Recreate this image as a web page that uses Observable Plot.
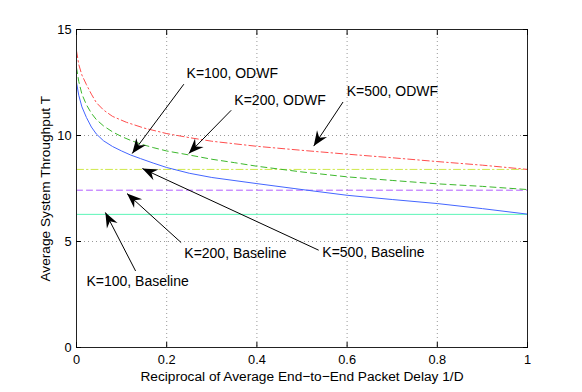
<!DOCTYPE html>
<html><head><meta charset="utf-8">
<script src="https://cdn.jsdelivr.net/npm/d3@7"></script>
<script src="https://cdn.jsdelivr.net/npm/@observablehq/plot@0.6"></script>
<style>body{margin:0;background:#fff} svg{display:block}</style>
</head><body><div id="chart"></div>
<script>
// ---- tick values ----
const xTicks = [0, 0.2, 0.4, 0.6, 0.8, 1];
const yTicks = [0, 5, 10, 15];

// ---- ODWF curves ----
const odwf100X = [0, 0.005, 0.012, 0.022, 0.033, 0.044, 0.06, 0.08, 0.1, 0.12, 0.142, 0.17, 0.2, 0.25, 0.3, 0.4, 0.5, 0.6, 0.7, 0.8, 0.9, 1, 1];
const odwf100Y = [12.5, 11.9, 11.35, 10.85, 10.4, 10.07, 9.75, 9.48, 9.27, 9.08, 8.91, 8.7, 8.49, 8.22, 8.02, 7.73, 7.45, 7.18, 6.98, 6.79, 6.55, 6.29, 0];

const odwf200X = [0, 0.005, 0.012, 0.022, 0.033, 0.044, 0.06, 0.08, 0.1, 0.12, 0.142, 0.17, 0.2, 0.25, 0.3, 0.35, 0.4, 0.5, 0.6, 0.7, 0.8, 0.9, 1, 1];
const odwf200Y = [13.2, 12.55, 11.95, 11.45, 11.05, 10.75, 10.45, 10.17, 9.95, 9.77, 9.6, 9.43, 9.27, 9.08, 8.88, 8.72, 8.55, 8.28, 8.05, 7.88, 7.72, 7.6, 7.45, 0];

const odwf500X = [0, 0.005, 0.012, 0.022, 0.033, 0.044, 0.06, 0.08, 0.111, 0.15, 0.2, 0.25, 0.3, 0.4, 0.5, 0.6, 0.7, 0.8, 0.9, 1, 1];
const odwf500Y = [14.0, 13.35, 12.85, 12.4, 11.95, 11.55, 11.2, 10.9, 10.62, 10.35, 10.09, 9.9, 9.73, 9.49, 9.3, 9.12, 8.95, 8.77, 8.6, 8.4, 0];

// ---- Baselines (constant) ----
const baseX = [0, 1];
const base100 = 6.28;
const base200 = 7.42;
const base500 = 8.40;

// ---- annotations ----
const annLabels = ["K=100, ODWF", "K=200, ODWF", "K=500, ODWF", "K=100, Baseline", "K=200, Baseline", "K=500, Baseline"];
const annTextX = [0.244, 0.350, 0.599, 0.022, 0.239, 0.545];
const annTextY = [12.92, 11.67, 12.09, 3.09, 4.43, 4.46];
const annTailX = [0.238, 0.343, 0.591, 0.131, 0.232, 0.537];
const annTailY = [12.42, 11.19, 11.58, 3.61, 4.95, 4.59];
const annHeadX = [0.1235, 0.249, 0.526, 0.064, 0.112, 0.146];
const annHeadY = [9.15, 9.15, 9.50, 6.37, 7.26, 8.44];

const xLabel = "Reciprocal of Average End\u2212to\u2212End Packet Delay 1/D";
const yLabel = "Average System Throughput T";

// ---- layout ----
const W = 582, H = 392;
const mL = 76, mR = 55, mT = 29, mB = 45;
const xDomain = [0, 1], yDomain = [0, 15];
const kx = (W - mL - mR) / (xDomain[1] - xDomain[0]);
const ky = (H - mT - mB) / (yDomain[1] - yDomain[0]);
const font = "'Liberation Sans', Arial, Helvetica, sans-serif";
const labelSize = 13.7;
const tickSize = 12.8;

const toRows = (xs, ys) => xs.map((x, i) => ({x, y: ys[i]}));
const odwf100 = toRows(odwf100X, odwf100Y);
const odwf200 = toRows(odwf200X, odwf200Y);
const odwf500 = toRows(odwf500X, odwf500Y);
const b100 = baseX.map(x => ({x, y: base100}));
const b200 = baseX.map(x => ({x, y: base200}));
const b500 = baseX.map(x => ({x, y: base500}));

const ann = annLabels.map((t, i) => ({
  t, tx: annTextX[i], ty: annTextY[i],
  x1: annTailX[i], y1: annTailY[i], x2: annHeadX[i], y2: annHeadY[i],
  angle: Math.atan2((annHeadX[i] - annTailX[i]) * kx, (annHeadY[i] - annTailY[i]) * ky) * 180 / Math.PI
}));

// y-axis title: start-anchored rotated text, centred on the frame using measured width
const ctx2d = document.createElement("canvas").getContext("2d");
ctx2d.font = `${labelSize}px ${font}`;
const yLabelW = ctx2d.measureText(yLabel).width;
const yTitle = [{
  t: yLabel,
  x: xDomain[0] - 31 / kx,
  y: (yDomain[0] + yDomain[1]) / 2 - (yLabelW / 2) / ky
}];

// filled "vback" arrowhead, tip at origin pointing up
const arrowHead = {
  draw(ctx) {
    const L = 15, w = 6, n = 10;
    ctx.moveTo(0, 0);
    ctx.lineTo(-w, L);
    ctx.lineTo(0, n);
    ctx.lineTo(w, L);
    ctx.closePath();
  }
};

const fmt = d3.format("~g");
const grid = {stroke: "#999", strokeOpacity: 1, strokeDasharray: "1,3", strokeWidth: 1};

const chart = Plot.plot({
  width: W, height: H,
  marginLeft: mL, marginRight: mR, marginTop: mT, marginBottom: mB,
  style: {fontFamily: font, fontSize: "13px", color: "#000", background: "#fff"},
  x: {domain: xDomain},
  y: {domain: yDomain},
  marks: [
    Plot.gridX(xTicks, grid),
    Plot.gridY(yTicks, grid),
    // baselines
    Plot.line(b500, {x: "x", y: "y", stroke: "#cfe84a", strokeWidth: 1, strokeDasharray: "7,3,1.5,3"}),
    Plot.line(b200, {x: "x", y: "y", stroke: "#b35cff", strokeWidth: 1, strokeDasharray: "6,4"}),
    Plot.line(b100, {x: "x", y: "y", stroke: "#5cf5b8", strokeWidth: 1}),
    // ODWF curves
    Plot.line(odwf500, {x: "x", y: "y", stroke: "#ff4d4d", strokeWidth: 1, strokeDasharray: "7,3,1.5,3"}),
    Plot.line(odwf200, {x: "x", y: "y", stroke: "#3cb82c", strokeWidth: 1, strokeDasharray: "6,4"}),
    Plot.line(odwf100, {x: "x", y: "y", stroke: "#4466ff", strokeWidth: 1}),
    // frame and ticks
    Plot.frame({stroke: "#222", strokeWidth: 1}),
    Plot.axisX(xTicks, {anchor: "bottom", tickSize: 0, tickPadding: 7, tickFormat: fmt, label: null, fontSize: tickSize}),
    Plot.axisY(yTicks, {anchor: "left", tickSize: 0, tickPadding: 5, tickFormat: fmt, label: null, fontSize: tickSize}),
    Plot.axisX(xTicks, {anchor: "bottom", tickSize: -5, tickFormat: () => "", label: null}),
    Plot.axisX(xTicks, {anchor: "top", tickSize: -5, tickFormat: () => "", label: null}),
    Plot.axisY(yTicks, {anchor: "left", tickSize: -5, tickFormat: () => "", label: null}),
    Plot.axisY(yTicks, {anchor: "right", tickSize: -5, tickFormat: () => "", label: null}),
    // annotations
    Plot.link(ann, {x1: "x1", y1: "y1", x2: "x2", y2: "y2", stroke: "#000", strokeWidth: 1}),
    Plot.dot(ann, {x: "x2", y: "y2", symbol: arrowHead, rotate: "angle", fill: "#000", stroke: "none"}),
    Plot.text(ann, {x: "tx", y: "ty", text: "t", textAnchor: "start", fontSize: 14, fill: "#000"}),
    // axis titles
    Plot.text([xLabel], {frameAnchor: "bottom", dy: 29, textAnchor: "middle", lineAnchor: "middle", fontSize: labelSize, fill: "#000"}),
    Plot.text(yTitle, {x: "x", y: "y", text: "t", rotate: -90, textAnchor: "start", lineAnchor: "middle", fontSize: labelSize, fill: "#000", clip: false})
  ]
});
document.getElementById("chart").appendChild(chart);
</script>
</body></html>
